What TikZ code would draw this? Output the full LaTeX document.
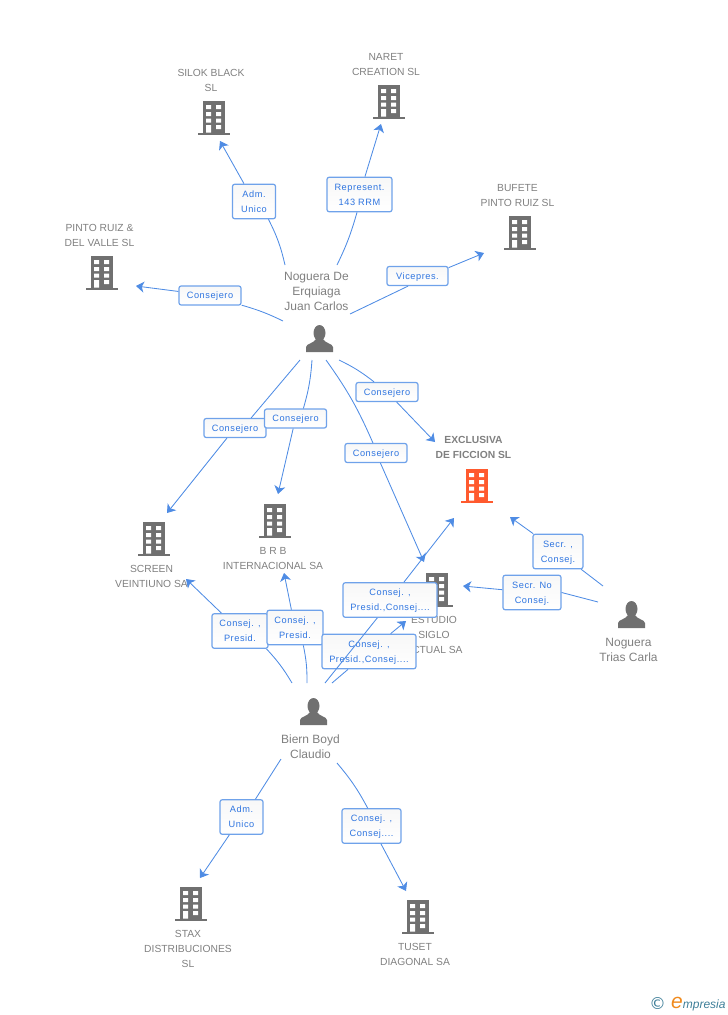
\documentclass[tikz,border=0pt]{standalone}
\usepackage{fontspec}
\setmainfont{Liberation Sans}
\newfontfamily\tagfont[LetterSpace=6]{Liberation Sans}
\newfontfamily\markfont{DejaVu Sans}
\usetikzlibrary{arrows.meta}
\definecolor{bldgray}{HTML}{707070}
\definecolor{txtgray}{HTML}{808080}
\definecolor{corpred}{HTML}{FF5A2E}
\definecolor{linkblue}{HTML}{4F8CE4}
\definecolor{tagblue}{HTML}{2F75E0}
\definecolor{edgeblue}{HTML}{6FA2EA}
\definecolor{marksteel}{HTML}{3F7F99}
\definecolor{markorange}{HTML}{F08A1D}
\tikzset{
  link/.style={linkblue, line width=0.85pt},
  linkto/.style={link, -{Stealth[length=8pt,width=11pt,inset=2.2pt]}},
  tagbox/.style={draw=edgeblue, line width=1.2pt, rounded corners=2.2pt, top color=black!3, bottom color=white,
    text=tagblue, font=\fontsize{9.2}{15}\tagfont, align=center, inner sep=0pt, text depth=0pt, minimum width=#1, minimum height=34.5pt},
  tagline/.style={tagbox=62pt, minimum height=19pt},
  corplabel/.style={text=txtgray, font=\fontsize{10.3}{15}\selectfont, align=center, inner sep=0pt},
  perslabel/.style={text=txtgray, font=\fontsize{12}{15}\selectfont, align=center, inner sep=0pt},
  building/.pic={
    \fill[pic actions] (0,32) rectangle (32,34);
    \fill[pic actions] (5,0) rectangle (27,32);
    \fill[white] (8,4) rectangle (13,8) (18,4) rectangle (23,8);
    \fill[white] (8,11) rectangle (13,15) (18,11) rectangle (23,15);
    \fill[white] (8,17.5) rectangle (13,21.5) (18,17.5) rectangle (23,21.5);
    \fill[white] (8,24) rectangle (13,31.5) (18,24) rectangle (23,28);
  },
  person/.pic={
    \fill[bldgray] (13.5,8) ellipse (6 and 8);
    \fill[bldgray] (0,27) -- (0,22) .. controls (1,18) and (7,19) .. (10,14)
      -- (17,14) .. controls (20,19) and (26,18) .. (27,22) -- (27,27) -- cycle;
  },
}
\begin{document}
\begin{tikzpicture}[x=1pt,y=-1pt]
  \useasboundingbox (0,0) rectangle (728,1015);

  % companies
  \pic[fill=bldgray] (silok) at (198,101) {building};
  \pic[fill=bldgray] (naret) at (373,85) {building};
  \pic[fill=bldgray] (bufete) at (504,216) {building};
  \pic[fill=bldgray] (pinto) at (86,256) {building};
  \pic[fill=corpred] (exclusiva) at (461,469) {building};
  \pic[fill=bldgray] (screen) at (138,522) {building};
  \pic[fill=bldgray] (brb) at (259,504) {building};
  \pic[fill=bldgray] (estudio) at (421,573) {building};
  \pic[fill=bldgray] (stax) at (175,887) {building};
  \pic[fill=bldgray] (tuset) at (402,900) {building};

  \node[corplabel] (silokname) at (211,80.5) {SILOK BLACK\\SL};
  \node[corplabel] (naretname) at (386,64.5) {NARET\\CREATION SL};
  \node[corplabel] (bufetename) at (517.5,195.5) {BUFETE\\PINTO RUIZ SL};
  \node[corplabel] (pintoname) at (99.5,235.5) {PINTO RUIZ \&\\DEL VALLE SL};
  \node[corplabel, font=\fontsize{10.3}{15}\bfseries] (exclusivaname) at (473.5,447.5) {EXCLUSIVA\\DE FICCION SL};
  \node[corplabel] (screenname) at (151.5,576.5) {SCREEN\\VEINTIUNO SA};
  \node[corplabel] (brbname) at (273,558.5) {B R B\\INTERNACIONAL SA};
  \node[corplabel] (estudioname) at (434,635) {ESTUDIO\\SIGLO\\ACTUAL SA};
  \node[corplabel] (staxname) at (188,949) {STAX\\DISTRIBUCIONES\\SL};
  \node[corplabel] (tusetname) at (415,954.5) {TUSET\\DIAGONAL SA};

  % people
  \pic (noguera) at (306,325) {person};
  \pic (biern) at (300,698) {person};
  \pic (trias) at (618,601) {person};
  \node[perslabel] (nogueraname) at (316.5,291) {Noguera De\\Erquiaga\\Juan Carlos};
  \node[perslabel] (biernname) at (310.5,746.5) {Biern Boyd\\Claudio};
  \node[perslabel] (triasname) at (628.5,649.5) {Noguera\\Trias Carla};

  % free ends of the links
  \coordinate (nogA) at (285,265);
  \coordinate (nogB) at (337,265);
  \coordinate (nogC) at (283,321);
  \coordinate (nogD) at (350,314);
  \coordinate (nogE) at (339,360);
  \coordinate (nogF) at (300,360);
  \coordinate (nogG) at (312,360);
  \coordinate (nogH) at (326,360);
  \coordinate (bieA) at (292,683);
  \coordinate (bieB) at (307,683);
  \coordinate (bieC) at (332,683);
  \coordinate (bieD) at (325,683);
  \coordinate (bieE) at (281,759);
  \coordinate (bieF) at (337,763);
  \coordinate (triA) at (603,586);
  \coordinate (triB) at (598,602);
  \coordinate (tipsilok) at (220,141);
  \coordinate (tipnaret) at (381,124);
  \coordinate (tippinto) at (136,286);
  \coordinate (tipbufete) at (484,253);
  \coordinate (tipexcl) at (435,442);
  \coordinate (tipscreen) at (167,513);
  \coordinate (tipbrb) at (278,494);
  \coordinate (tipestudio) at (424,562);
  \coordinate (tipscreenb) at (186,579);
  \coordinate (tipbrbb) at (284,573);
  \coordinate (tipexclb) at (454,518);
  \coordinate (tipestudiob) at (406,621);
  \coordinate (tipexclc) at (510,517);
  \coordinate (tipestudioc) at (463,586);
  \coordinate (tipstax) at (200,878);
  \coordinate (tiptuset) at (406,891);
  \coordinate (footexclb) at (378,617);

  % upper person
  \node[tagbox=43pt] (admsilok) at (254,201.5) {Adm.\\Unico};
  \node[tagbox=65pt] (repnaret) at (359.5,194.5) {Represent.\\143 RRM};
  \node[tagline] (conpinto) at (210,295.5) {Consejero};
  \node[tagline, minimum width=61pt] (vicebufete) at (417.5,276) {Vicepres.};
  \node[tagline] (conexcl) at (387,392) {Consejero};
  \node[tagline] (conscreen) at (235,428) {Consejero};
  \node[tagline] (conbrb) at (295.5,418.5) {Consejero};
  \node[tagline] (conestudio) at (376,453) {Consejero};

  % lower person and right person
  \node[tagbox=56pt] (conscreenb) at (240,631) {Consej. ,\\Presid.};
  \node[tagbox=56pt] (conbrbb) at (295,627.5) {Consej. ,\\Presid.};
  \node[tagbox=94pt] (conestudiob) at (369,651.5) {Consej. ,\\Presid.,Consej....};
  \draw[link] (bieD) -- (footexclb);
  \node[tagbox=94pt] (conexclb) at (390,600) {Consej. ,\\Presid.,Consej....};
  \node[tagbox=50pt] (secexcl) at (558,551.5) {Secr. ,\\Consej.};
  \node[tagbox=58pt] (secestudio) at (532,592.5) {Secr. No\\Consej.};
  \node[tagbox=43pt] (admstax) at (241.5,817) {Adm.\\Unico};
  \node[tagbox=59pt] (contuset) at (371.5,826) {Consej. ,\\Consej....};

  % links, person to box and box to company
  \draw[link] (nogA) to[bend right=7] (admsilok.-51);
  \draw[linkto] (admsilok) -- (tipsilok);
  \draw[link] (nogB) to[bend right=5] (repnaret.-98);
  \draw[linkto] (repnaret) -- (tipnaret);
  \draw[link] (nogC) to[bend right=5] (conpinto.-17);
  \draw[linkto] (conpinto) -- (tippinto);
  \draw[link] (nogD) -- (vicebufete.-133);
  \draw[linkto] (vicebufete.15) -- (tipbufete);
  \draw[link] (nogE) to[bend left=6] (conexcl.142);
  \draw[linkto] (conexcl) -- (tipexcl);
  \draw[link] (nogF) -- (conscreen.32);
  \draw[linkto] (conscreen) -- (tipscreen);
  \draw[link] (nogG) to[bend left=6] (conbrb.52);
  \draw[linkto] (conbrb) -- (tipbrb);
  \draw[link] (nogH) to[bend left=6] (conestudio.107);
  \draw[linkto] (conestudio) -- (tipestudio);

  \draw[link] (bieA) to[bend right=6] (conscreenb.-34);
  \draw[linkto] (conscreenb) -- (tipscreenb);
  \draw[link] (bieB) to[bend right=6] (conbrbb.-65);
  \draw[linkto] (conbrbb) -- (tipbrbb);
  \draw[link] (bieC) -- (conestudiob);
  \draw[linkto] (conestudiob) -- (tipestudiob);
  \draw[linkto] (conexclb) -- (tipexclb);
  \draw[link] (bieE) -- (admstax.52);
  \draw[linkto] (admstax) -- (tipstax);
  \draw[link] (bieF) to[bend left=6] (contuset.102);
  \draw[linkto] (contuset) -- (tiptuset);

  \draw[link] (triA) -- (secexcl);
  \draw[linkto] (secexcl) -- (tipexclc);
  \draw[link] (triB) -- (secestudio.east);
  \draw[linkto] (secestudio) -- (tipestudioc);

  % mark in the corner
  \node[text=marksteel, font=\fontsize{16.5}{16.5}\markfont, inner sep=0pt] (markc) at (657.5,1004) {©};
  \node[anchor=base west, inner sep=0pt, text=marksteel, font=\fontsize{12}{12}\itshape] (markname) at (671,1008)
    {\textcolor{markorange}{\fontsize{21}{21}\selectfont e}mpresia};
\end{tikzpicture}
\end{document}
